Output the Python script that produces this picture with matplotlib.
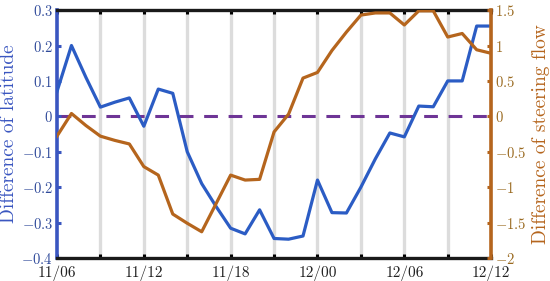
import numpy as np
import matplotlib.pyplot as plt

# hours since 11/06 (day/hour), hourly samples
hours = np.arange(0, 31)
lat_diff = [0.07, 0.20, 0.11, 0.026, 0.04, 0.052, -0.028, 0.077, 0.065, -0.10,
            -0.19, -0.255, -0.316, -0.332, -0.264, -0.345, -0.347, -0.338, -0.18, -0.272,
            -0.273, -0.20, -0.12, -0.047, -0.058, 0.029, 0.027, 0.10, 0.10, 0.255, 0.255]
flow_diff = [-0.28, 0.04, -0.13, -0.28, -0.34, -0.39, -0.71, -0.83, -1.38, -1.51,
             -1.63, -1.23, -0.83, -0.90, -0.89, -0.22, 0.03, 0.54, 0.62, 0.93,
             1.19, 1.43, 1.46, 1.46, 1.29, 1.49, 1.49, 1.12, 1.17, 0.94, 0.89]
xtick_pos = np.arange(0, 31, 3)
xtick_lab = ['11/06', '', '11/12', '', '11/18', '', '12/00', '', '12/06', '', '12/12']
left_ticks = [-0.4, -0.3, -0.2, -0.1, 0, 0.1, 0.2, 0.3]
left_lab = ['$-0.4$', '$-0.3$', '$-0.2$', '$-0.1$', '$0$', '$0.1$', '$0.2$', '$0.3$']
right_ticks = [-2, -1.5, -1, -0.5, 0, 0.5, 1, 1.5]
right_lab = ['$-2$', '$-1.5$', '$-1$', '$-0.5$', '$0$', '$0.5$', '$1$', '$1.5$']

plt.rcParams['font.family'] = ['serif']
plt.rcParams['font.serif'] = ['cmr10', 'DejaVu Serif']
plt.rcParams['mathtext.fontset'] = 'cm'
plt.rcParams['axes.unicode_minus'] = False

blue = '#2b5cc4'
blue_ax = '#3a56c0'
brown = '#b5651d'
purple = '#6e3596'
grey = '#dcdcdc'

fig = plt.figure(figsize=(5.5, 2.81), dpi=100)
ax = fig.add_axes([0.1036, 0.082, 0.7894, 0.882])
for x in xtick_pos[1:-1]:
    ax.axvline(x, color=grey, lw=2.4, zorder=0)
ax.axhline(0, color=purple, lw=2.2, dashes=(4.5, 3.5), zorder=1)
ax.plot(hours, lat_diff, color=blue, lw=2.3, zorder=3)
ax.set_xlim(0, 30)
ax.set_ylim(-0.4, 0.3)
ax.set_xticks(xtick_pos)
ax.set_xticklabels(xtick_lab, fontsize=11, color='#222222')
ax.set_yticks(left_ticks)
ax.set_yticklabels(left_lab, fontsize=10.5, color='#2f4a9a')
ax.set_ylabel('Difference of latitude', fontsize=14, color=blue_ax, labelpad=2)
ax.tick_params(axis='x', direction='in', length=3, width=2.2, top=True, pad=5.5)
ax.tick_params(axis='y', direction='in', length=3, width=2.2, colors=blue_ax, pad=3)
ax.tick_params(axis='y', labelcolor='#2f4a9a')
for s in ['top', 'bottom']:
    ax.spines[s].set_linewidth(2.4)
    ax.spines[s].set_color('#1a1a1a')
ax.spines['left'].set_linewidth(2.6)
ax.spines['left'].set_color(blue_ax)

ax2 = ax.twinx()
ax2.plot(hours, flow_diff, color=brown, lw=2.3, zorder=3)
ax2.set_ylim(-2, 1.5)
ax2.set_yticks(right_ticks)
ax2.set_yticklabels(right_lab, fontsize=10.5, color='#9a6a20')
ax2.set_ylabel('Difference of steering flow', fontsize=14, color=brown, labelpad=4)
ax2.tick_params(axis='y', direction='in', length=3, width=2.2, colors=brown, pad=3)
ax2.tick_params(axis='y', labelcolor='#9a6a20')
ax2.spines['right'].set_linewidth(2.6)
ax2.spines['right'].set_color(brown)
ax2.spines['left'].set_visible(False)
ax2.spines['top'].set_visible(False)
ax2.spines['bottom'].set_visible(False)

fig.savefig('out.png', dpi=100)
